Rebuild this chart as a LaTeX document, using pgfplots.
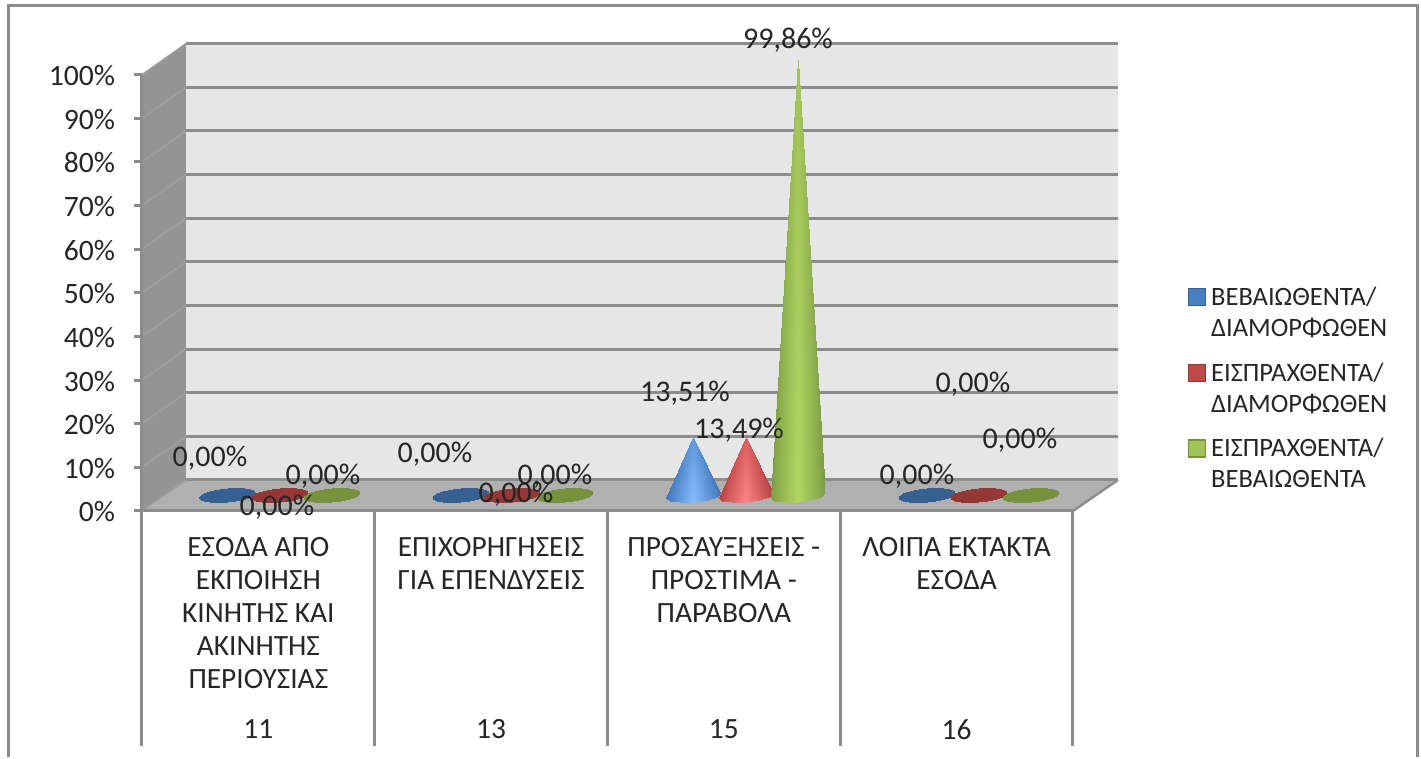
\documentclass[border=0pt]{standalone}
\usepackage{pgfplots}
\usepackage{fontspec}
\setmainfont{Carlito}
\pgfplotsset{compat=1.18}
\definecolor{frm}{HTML}{8C8C8C}
\definecolor{wall}{HTML}{E6E6E6}
\definecolor{side}{HTML}{949494}
\definecolor{flr}{HTML}{B0B0B0}
\definecolor{txt}{HTML}{262626}
\definecolor{blueE}{HTML}{376092}
\definecolor{redE}{HTML}{953735}
\definecolor{greenE}{HTML}{76923C}
\definecolor{blueL}{HTML}{3F74B5}
\definecolor{blueM}{HTML}{85BEFF}
\definecolor{redL}{HTML}{B03F3D}
\definecolor{redM}{HTML}{FF8585}
\definecolor{greenL}{HTML}{7C9A42}
\definecolor{greenM}{HTML}{B3D663}
\newcommand\lab[3]{\node[txt,font=\fontsize{15}{17}\selectfont,inner sep=0pt] at (axis cs:{(#1-142)/232.75},{(511-#2)/4.363}) {#3};}
\newcommand\twol[2]{\begin{tabular}[t]{@{}l@{}}#1\\#2\end{tabular}}
\begin{document}
\begin{tikzpicture}
\begin{axis}[
  set layers=axis on top,
  scale only axis, width=465.5pt, height=218.15pt,
  xmin=0, xmax=4, ymin=0, ymax=100,
  clip=false,
  point meta min=0, point meta max=1,
  axis x line*=bottom, axis y line*=left,
  axis line style={frm,line width=1.5pt,-},
  tick style={frm,line width=1.5pt},
  tick align=outside,
  major tick length=4pt,
  minor tick length=117.5pt,
  major x tick style={draw=none},
  ytick={0,10,...,100},
  yticklabel={\pgfmathprintnumber{\tick}\%},
  /pgf/number format/assume math mode=true,
  yticklabel style={font=\fontsize{14.8}{17}\selectfont,text=txt,xshift=-6pt,yshift=-0.5pt},
  xtick={0.5,1.5,2.5,3.5},
  minor xtick={0,1,2,3,4},
  xticklabels={{ΕΣΟΔΑ ΑΠΟ\\ΕΚΠΟΙΗΣΗ\\ΚΙΝΗΤΗΣ ΚΑΙ\\ΑΚΙΝΗΤΗΣ\\ΠΕΡΙΟΥΣΙΑΣ},{ΕΠΙΧΟΡΗΓΗΣΕΙΣ\\ΓΙΑ ΕΠΕΝΔΥΣΕΙΣ},{ΠΡΟΣΑΥΞΗΣΕΙΣ -\\ΠΡΟΣΤΙΜΑ -\\ΠΑΡΑΒΟΛΑ},{ΛΟΙΠΑ ΕΚΤΑΚΤΑ\\ΕΣΟΔΑ}},
  xticklabel style={font=\fontsize{14.7}{16.5}\selectfont,text=txt,align=center,anchor=north,yshift=-5.8pt},
  extra x ticks={0.5,1.5,2.5,3.5},
  extra x tick labels={11,13,15,16},
  extra x tick style={major tick length=0pt,xticklabel style={yshift=-95pt}},
  legend style={at={(axis cs:4.494,53.0)},anchor=north west,draw=none,fill=none,inner sep=0pt,outer sep=0pt,
    font=\fontsize{13.25}{15.5}\selectfont,text=txt,row sep=21.5pt,column sep=0.5pt},
  legend cell align=left,
  legend image code/.code={\draw[#1,line width=0.6pt] (0pt,-4.8pt) rectangle (8.5pt,3.7pt);},
  floor/.style={yshift=7.75pt,forget plot},
  base/.style={floor,only marks,mark=*,mark size=3.25pt,mark options={draw=#1,fill=#1,line width=0pt,rotate=5,xscale=4.3}},
  cone/.style n args={2}{floor,patch,patch type=triangle,shader=interp,point meta=explicit,
     colormap={c#1}{color=(#1) color=(#2)}},
]
\addlegendimage{fill=blueL!85!blueM,draw=blueE}
\addlegendentry{\twol{ΒΕΒΑΙΩΘΕΝΤΑ/}{ΔΙΑΜΟΡΦΩΘΕΝ}}
\addlegendimage{fill=redL!85!redM,draw=redE}
\addlegendentry{\twol{ΕΙΣΠΡΑΧΘΕΝΤΑ/}{ΔΙΑΜΟΡΦΩΘΕΝ}}
\addlegendimage{fill=greenL!30!greenM,draw=greenE}
\addlegendentry{\twol{ΕΙΣΠΡΑΧΘΕΝΤΑ/}{ΒΕΒΑΙΩΘΕΝΤΑ}}

% frame and bounding box
\path (axis cs:-0.6101,-56.38) rectangle (axis cs:5.4952,117.12);
\draw[frm,line width=1.5pt] (axis cs:-0.5757,-56.38) -- (axis cs:-0.5757,115.75) -- (axis cs:5.478,115.75) -- (axis cs:5.478,-56.38);
% 3D box
\fill[wall] (axis cs:0.189,7.105) rectangle (axis cs:4.193,107.1);
\fill[side] (axis cs:0,0) -- (axis cs:0.189,7.105) -- (axis cs:0.189,107.1) -- (axis cs:0,100) -- cycle;
\fill[flr] (axis cs:0,0) -- (axis cs:4,0) -- (axis cs:4.193,7.105) -- (axis cs:0.189,7.105) -- cycle;
\pgfplotsinvokeforeach{0,10,...,100}{
  \draw[frm,line width=1.5pt] (axis cs:0.189,#1+7.105) -- (axis cs:4.193,#1+7.105);
  \draw[gray!75,line width=0.8pt] (axis cs:0,#1) -- (axis cs:0.189,#1+7.105);
}
\draw[frm,line width=1.2pt] (axis cs:4,0) -- (axis cs:4.193,7.105);

% series at value zero: bases on the floor
\addplot[base=blueE] coordinates {(0.368,0) (1.370,0) (3.373,0)};
\addplot[base=redE] coordinates {(0.593,0) (1.590,0) (3.596,0)};
\addplot[base=greenE] coordinates {(0.816,0) (1.817,0) (3.820,0)};

% cones of category 15: a fan of triangles from the apex over the base arc
\addplot[cone={blueL}{blueM}] coordinates {
 (2.252,-0.55)[0.0] (2.2675,-1.23)[0.2] (2.368,13.51)[0.5]
 (2.2675,-1.23)[0.2] (2.31,-1.57)[0.55] (2.368,13.51)[0.5]
 (2.31,-1.57)[0.55] (2.368,-1.49)[1.0] (2.368,13.51)[0.5]
 (2.368,-1.49)[1.0] (2.426,-1.02)[0.55] (2.368,13.51)[0.5]
 (2.426,-1.02)[0.55] (2.4685,-0.26)[0.2] (2.368,13.51)[0.5]
 (2.4685,-0.26)[0.2] (2.484,0.55)[0.0] (2.368,13.51)[0.5]};
\addplot[cone={redL}{redM}] coordinates {
 (2.477,-0.55)[0.0] (2.4925,-1.23)[0.2] (2.593,13.49)[0.5]
 (2.4925,-1.23)[0.2] (2.535,-1.57)[0.55] (2.593,13.49)[0.5]
 (2.535,-1.57)[0.55] (2.593,-1.49)[1.0] (2.593,13.49)[0.5]
 (2.593,-1.49)[1.0] (2.651,-1.02)[0.55] (2.593,13.49)[0.5]
 (2.651,-1.02)[0.55] (2.6935,-0.26)[0.2] (2.593,13.49)[0.5]
 (2.6935,-0.26)[0.2] (2.709,0.55)[0.0] (2.593,13.49)[0.5]};
\addplot[cone={greenL}{greenM}] coordinates {
 (2.702,-0.55)[0.0] (2.7175,-1.23)[0.2] (2.818,99.86)[0.7]
 (2.7175,-1.23)[0.2] (2.76,-1.57)[0.55] (2.818,99.86)[0.7]
 (2.76,-1.57)[0.55] (2.818,-1.49)[1.0] (2.818,99.86)[0.7]
 (2.818,-1.49)[1.0] (2.876,-1.02)[0.55] (2.818,99.86)[0.7]
 (2.876,-1.02)[0.55] (2.9185,-0.26)[0.2] (2.818,99.86)[0.7]
 (2.9185,-0.26)[0.2] (2.934,0.55)[0.0] (2.818,99.86)[0.7]};

% data labels
\begin{pgfonlayer}{axis foreground}
\lab{210}{458}{0,00\%}
\lab{277}{507}{0,00\%}
\lab{323}{476}{0,00\%}
\lab{435}{454}{0,00\%}
\lab{516}{494}{0,00\%}
\lab{555}{476}{0,00\%}
\lab{685}{393}{13,51\%}
\lab{739}{430}{13,49\%}
\lab{788}{40}{99,86\%}
\lab{917}{476}{0,00\%}
\lab{973}{384}{0,00\%}
\lab{1020}{440}{0,00\%}
\end{pgfonlayer}
\end{axis}
\end{tikzpicture}
\end{document}
